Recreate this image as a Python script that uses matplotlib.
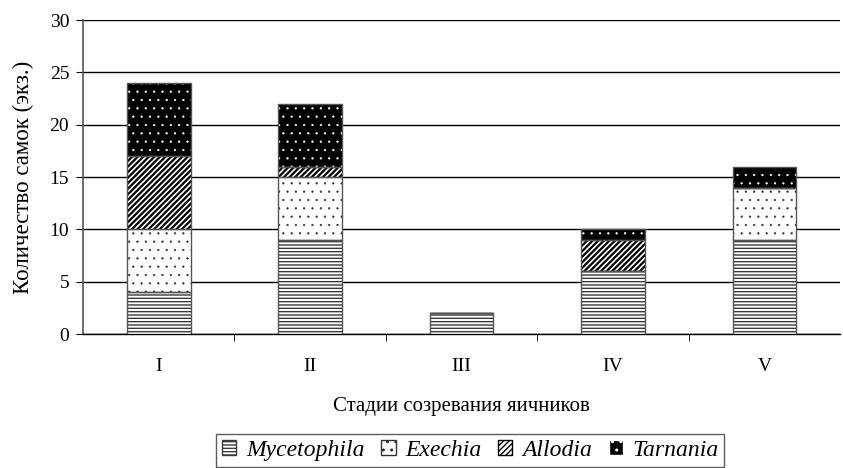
import numpy as np
import matplotlib
matplotlib.use("Agg")
import matplotlib.pyplot as plt
from matplotlib.patches import Patch

plt.rcParams.update({
    "font.family": "Liberation Serif",
    "font.size": 14,
})

stages = ["I", "II", "III", "IV", "V"]
genera = ["Mycetophila", "Exechia", "Allodia", "Tarnania"]
mycetophila = [4, 9, 2, 6, 9]
exechia = [6, 6, 0, 0, 5]
allodia = [7, 1, 0, 3, 0]
tarnania = [7, 6, 0, 1, 2]

# (face, hatch colour, hatch pattern, hatch width) for each genus
styles = [
    ("white", "#3a3a3a", "-----", 1.0),
    ("white", "#333333", "..", 0.4),
    ("white", "black", "//////", 1.6),
    ("black", "white", "..", 0.4),
]

fig = plt.figure(figsize=(8.43, 4.68), dpi=100)
ax = fig.add_axes([0.0985, 0.286, 0.898, 0.671])

x = np.arange(len(stages))
width = 0.42
bottom = np.zeros(len(stages))
handles = []
for vals, name, (fc, hc, hatch, hlw) in zip([mycetophila, exechia, allodia, tarnania], genera, styles):
    vals = np.array(vals, dtype=float)
    with plt.rc_context({"hatch.linewidth": hlw}):
        ax.bar(x, vals, width, bottom=bottom, color=fc, edgecolor=hc, hatch=hatch,
               linewidth=0, zorder=3)
        handles.append(Patch(facecolor=fc, edgecolor=hc, hatch=hatch, label=name))
    ax.bar(x, vals, width, bottom=bottom, fill=False, edgecolor="#555555",
           linewidth=1.0, zorder=4)
    bottom += vals

ax.set_ylim(0, 30)
ax.set_yticks(range(0, 31, 5))
ax.set_xlim(-0.5, len(stages) - 0.5)
ax.set_xticks(x)
ax.set_xticklabels(stages)
ax.set_xticks(np.arange(0.5, len(stages) - 0.5, 1), minor=True)
ax.tick_params(axis="x", which="major", length=0, pad=17, labelsize=14)
ax.tick_params(axis="x", which="minor", length=5, direction="out")
ax.tick_params(axis="y", length=5, direction="out", labelsize=14, pad=5)
ax.yaxis.grid(True, color="black", linewidth=1.0, zorder=0)
ax.set_axisbelow(True)
for s in ["top", "right"]:
    ax.spines[s].set_visible(False)
ax.spines["left"].set_color("#555555")
ax.spines["left"].set_linewidth(1.2)
ax.spines["bottom"].set_linewidth(1.0)

ax.set_ylabel("Количество самок (экз.)", fontsize=16.5, labelpad=11)
ax.set_xlabel("Стадии созревания яичников", fontsize=15, labelpad=16)

leg = fig.legend(handles=handles, loc="upper center", bbox_to_anchor=(0.558, 0.072),
                 ncol=4, frameon=True, fancybox=False, edgecolor="#333333",
                 prop={"family": "Liberation Serif", "style": "italic", "size": 17},
                 handlelength=0.6, handleheight=0.6, handletextpad=0.4,
                 columnspacing=0.72, borderpad=0.25, borderaxespad=0)
leg.get_frame().set_linewidth(1.0)

plt.savefig("out.png", dpi=100)
